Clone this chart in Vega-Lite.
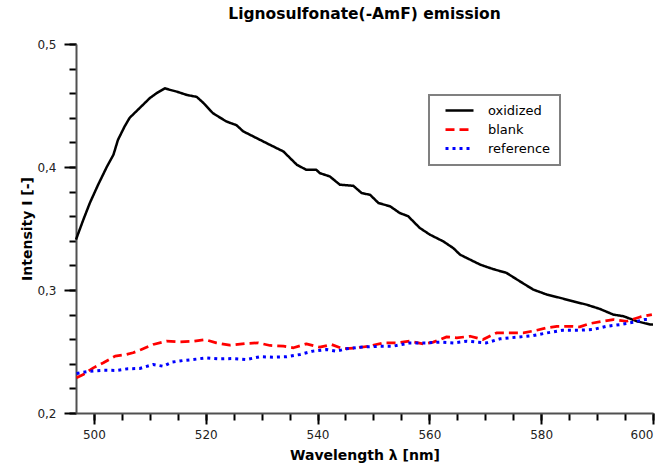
{
  "$schema": "https://vega.github.io/schema/vega-lite/v6.json",
  "width": 577,
  "height": 369,
  "autosize": {"type": "none"},
  "padding": {"left": 76, "top": 44, "right": 13, "bottom": 50},
  "background": "white",
  "config": {
    "view": {"stroke": null},
    "font": "DejaVu Sans",
    "legend": {
      "orient": "none",
      "legendX": 353,
      "legendY": 51,
      "title": null,
      "padding": 9,
      "strokeColor": "#808080",
      "strokeWidth": 2,
      "fillColor": "white",
      "symbolType": "M-2.8,0L2.8,0",
      "symbolSize": 100,
      "symbolOffset": 15,
      "labelOffset": 22,
      "labelFontSize": 13,
      "labelFont": "DejaVu Sans",
      "labelColor": "#000000",
      "rowPadding": 5
    }
  },
  "title": {
    "text": "Lignosulfonate(-AmF) emission",
    "fontSize": 15.5,
    "fontWeight": "bold",
    "font": "DejaVu Sans",
    "anchor": "middle",
    "offset": 16,
    "color": "#000000"
  },
  "data": {
    "values": [
      {"series": "oxidized", "wavelength": 496.8, "intensity": 0.341},
      {"series": "oxidized", "wavelength": 498.1, "intensity": 0.357},
      {"series": "oxidized", "wavelength": 499.3, "intensity": 0.371},
      {"series": "oxidized", "wavelength": 500.8, "intensity": 0.386},
      {"series": "oxidized", "wavelength": 502.3, "intensity": 0.4},
      {"series": "oxidized", "wavelength": 503.5, "intensity": 0.41},
      {"series": "oxidized", "wavelength": 504.3, "intensity": 0.422},
      {"series": "oxidized", "wavelength": 505.5, "intensity": 0.433},
      {"series": "oxidized", "wavelength": 506.4, "intensity": 0.44},
      {"series": "oxidized", "wavelength": 508.2, "intensity": 0.448},
      {"series": "oxidized", "wavelength": 510.0, "intensity": 0.456},
      {"series": "oxidized", "wavelength": 511.2, "intensity": 0.46},
      {"series": "oxidized", "wavelength": 512.7, "intensity": 0.464},
      {"series": "oxidized", "wavelength": 513.6, "intensity": 0.4627},
      {"series": "oxidized", "wavelength": 514.8, "intensity": 0.4613},
      {"series": "oxidized", "wavelength": 516.6, "intensity": 0.4586},
      {"series": "oxidized", "wavelength": 518.4, "intensity": 0.457},
      {"series": "oxidized", "wavelength": 519.6, "intensity": 0.452},
      {"series": "oxidized", "wavelength": 521.3, "intensity": 0.4437},
      {"series": "oxidized", "wavelength": 523.7, "intensity": 0.437},
      {"series": "oxidized", "wavelength": 525.5, "intensity": 0.434},
      {"series": "oxidized", "wavelength": 526.7, "intensity": 0.429},
      {"series": "oxidized", "wavelength": 529.1, "intensity": 0.4235},
      {"series": "oxidized", "wavelength": 531.5, "intensity": 0.418},
      {"series": "oxidized", "wavelength": 533.9, "intensity": 0.4126},
      {"series": "oxidized", "wavelength": 536.3, "intensity": 0.4018},
      {"series": "oxidized", "wavelength": 538.0, "intensity": 0.3977},
      {"series": "oxidized", "wavelength": 539.8, "intensity": 0.3977},
      {"series": "oxidized", "wavelength": 540.4, "intensity": 0.395},
      {"series": "oxidized", "wavelength": 542.2, "intensity": 0.3923},
      {"series": "oxidized", "wavelength": 544.0, "intensity": 0.3856},
      {"series": "oxidized", "wavelength": 546.4, "intensity": 0.3847},
      {"series": "oxidized", "wavelength": 547.9, "intensity": 0.3788},
      {"series": "oxidized", "wavelength": 549.4, "intensity": 0.3774},
      {"series": "oxidized", "wavelength": 550.9, "intensity": 0.3707},
      {"series": "oxidized", "wavelength": 553.0, "intensity": 0.368},
      {"series": "oxidized", "wavelength": 554.7, "intensity": 0.3626},
      {"series": "oxidized", "wavelength": 556.2, "intensity": 0.36},
      {"series": "oxidized", "wavelength": 557.7, "intensity": 0.3531},
      {"series": "oxidized", "wavelength": 558.3, "intensity": 0.3504},
      {"series": "oxidized", "wavelength": 560.1, "intensity": 0.345},
      {"series": "oxidized", "wavelength": 562.5, "intensity": 0.3395},
      {"series": "oxidized", "wavelength": 564.3, "intensity": 0.334},
      {"series": "oxidized", "wavelength": 565.5, "intensity": 0.3287},
      {"series": "oxidized", "wavelength": 566.7, "intensity": 0.326},
      {"series": "oxidized", "wavelength": 569.1, "intensity": 0.3206},
      {"series": "oxidized", "wavelength": 571.4, "intensity": 0.317},
      {"series": "oxidized", "wavelength": 573.8, "intensity": 0.3139},
      {"series": "oxidized", "wavelength": 576.2, "intensity": 0.307},
      {"series": "oxidized", "wavelength": 578.6, "intensity": 0.3003},
      {"series": "oxidized", "wavelength": 581.0, "intensity": 0.2963},
      {"series": "oxidized", "wavelength": 583.4, "intensity": 0.2936},
      {"series": "oxidized", "wavelength": 585.7, "intensity": 0.2908},
      {"series": "oxidized", "wavelength": 588.1, "intensity": 0.2881},
      {"series": "oxidized", "wavelength": 590.5, "intensity": 0.2846},
      {"series": "oxidized", "wavelength": 592.9, "intensity": 0.28},
      {"series": "oxidized", "wavelength": 594.7, "intensity": 0.2787},
      {"series": "oxidized", "wavelength": 597.1, "intensity": 0.2746},
      {"series": "oxidized", "wavelength": 599.5, "intensity": 0.2719},
      {"series": "oxidized", "wavelength": 600.0, "intensity": 0.272},
      {"series": "blank", "wavelength": 496.9, "intensity": 0.2286},
      {"series": "blank", "wavelength": 498.1, "intensity": 0.2313},
      {"series": "blank", "wavelength": 499.9, "intensity": 0.2367},
      {"series": "blank", "wavelength": 501.7, "intensity": 0.2408},
      {"series": "blank", "wavelength": 503.8, "intensity": 0.2462},
      {"series": "blank", "wavelength": 505.8, "intensity": 0.2476},
      {"series": "blank", "wavelength": 507.0, "intensity": 0.249},
      {"series": "blank", "wavelength": 508.5, "intensity": 0.2516},
      {"series": "blank", "wavelength": 510.6, "intensity": 0.2557},
      {"series": "blank", "wavelength": 513.0, "intensity": 0.2584},
      {"series": "blank", "wavelength": 515.4, "intensity": 0.2579},
      {"series": "blank", "wavelength": 517.8, "intensity": 0.2584},
      {"series": "blank", "wavelength": 519.9, "intensity": 0.2597},
      {"series": "blank", "wavelength": 521.9, "intensity": 0.257},
      {"series": "blank", "wavelength": 524.3, "intensity": 0.2551},
      {"series": "blank", "wavelength": 527.0, "intensity": 0.2565},
      {"series": "blank", "wavelength": 529.4, "intensity": 0.257},
      {"series": "blank", "wavelength": 531.5, "intensity": 0.2549},
      {"series": "blank", "wavelength": 533.9, "intensity": 0.2543},
      {"series": "blank", "wavelength": 535.7, "intensity": 0.253},
      {"series": "blank", "wavelength": 538.0, "intensity": 0.2562},
      {"series": "blank", "wavelength": 540.4, "intensity": 0.2535},
      {"series": "blank", "wavelength": 542.5, "intensity": 0.2557},
      {"series": "blank", "wavelength": 544.6, "intensity": 0.2522},
      {"series": "blank", "wavelength": 547.0, "intensity": 0.253},
      {"series": "blank", "wavelength": 549.1, "intensity": 0.2543},
      {"series": "blank", "wavelength": 551.8, "intensity": 0.257},
      {"series": "blank", "wavelength": 554.2, "intensity": 0.257},
      {"series": "blank", "wavelength": 556.5, "intensity": 0.2584},
      {"series": "blank", "wavelength": 558.9, "intensity": 0.2562},
      {"series": "blank", "wavelength": 560.7, "intensity": 0.2576},
      {"series": "blank", "wavelength": 563.1, "intensity": 0.2619},
      {"series": "blank", "wavelength": 564.9, "intensity": 0.2611},
      {"series": "blank", "wavelength": 567.3, "intensity": 0.2624},
      {"series": "blank", "wavelength": 569.6, "intensity": 0.2597},
      {"series": "blank", "wavelength": 572.0, "intensity": 0.2651},
      {"series": "blank", "wavelength": 574.4, "intensity": 0.2651},
      {"series": "blank", "wavelength": 576.8, "intensity": 0.2651},
      {"series": "blank", "wavelength": 579.2, "intensity": 0.2673},
      {"series": "blank", "wavelength": 581.0, "intensity": 0.2692},
      {"series": "blank", "wavelength": 582.8, "intensity": 0.2705},
      {"series": "blank", "wavelength": 585.2, "intensity": 0.2705},
      {"series": "blank", "wavelength": 586.9, "intensity": 0.27},
      {"series": "blank", "wavelength": 588.7, "intensity": 0.2727},
      {"series": "blank", "wavelength": 591.1, "intensity": 0.2746},
      {"series": "blank", "wavelength": 592.9, "intensity": 0.276},
      {"series": "blank", "wavelength": 595.3, "intensity": 0.2746},
      {"series": "blank", "wavelength": 597.7, "intensity": 0.2781},
      {"series": "blank", "wavelength": 599.8, "intensity": 0.28},
      {"series": "reference", "wavelength": 496.9, "intensity": 0.2321},
      {"series": "reference", "wavelength": 499.3, "intensity": 0.234},
      {"series": "reference", "wavelength": 501.7, "intensity": 0.2348},
      {"series": "reference", "wavelength": 504.0, "intensity": 0.2346},
      {"series": "reference", "wavelength": 506.1, "intensity": 0.236},
      {"series": "reference", "wavelength": 508.2, "intensity": 0.2362},
      {"series": "reference", "wavelength": 510.6, "intensity": 0.2394},
      {"series": "reference", "wavelength": 512.4, "intensity": 0.238},
      {"series": "reference", "wavelength": 513.9, "intensity": 0.2413},
      {"series": "reference", "wavelength": 516.0, "intensity": 0.2427},
      {"series": "reference", "wavelength": 517.8, "intensity": 0.2435},
      {"series": "reference", "wavelength": 520.1, "intensity": 0.2448},
      {"series": "reference", "wavelength": 522.5, "intensity": 0.244},
      {"series": "reference", "wavelength": 524.9, "intensity": 0.2443},
      {"series": "reference", "wavelength": 527.3, "intensity": 0.2435},
      {"series": "reference", "wavelength": 529.7, "intensity": 0.2457},
      {"series": "reference", "wavelength": 532.1, "intensity": 0.2454},
      {"series": "reference", "wavelength": 534.5, "intensity": 0.2457},
      {"series": "reference", "wavelength": 536.9, "intensity": 0.2476},
      {"series": "reference", "wavelength": 539.2, "intensity": 0.2503},
      {"series": "reference", "wavelength": 541.6, "intensity": 0.2516},
      {"series": "reference", "wavelength": 543.4, "intensity": 0.2503},
      {"series": "reference", "wavelength": 545.2, "intensity": 0.2522},
      {"series": "reference", "wavelength": 547.6, "intensity": 0.2535},
      {"series": "reference", "wavelength": 551.2, "intensity": 0.2543},
      {"series": "reference", "wavelength": 553.5, "intensity": 0.2543},
      {"series": "reference", "wavelength": 556.5, "intensity": 0.257},
      {"series": "reference", "wavelength": 559.5, "intensity": 0.257},
      {"series": "reference", "wavelength": 561.9, "intensity": 0.2576},
      {"series": "reference", "wavelength": 564.3, "intensity": 0.257},
      {"series": "reference", "wavelength": 566.7, "intensity": 0.2584},
      {"series": "reference", "wavelength": 570.2, "intensity": 0.257},
      {"series": "reference", "wavelength": 572.6, "intensity": 0.2603},
      {"series": "reference", "wavelength": 575.6, "intensity": 0.2616},
      {"series": "reference", "wavelength": 578.6, "intensity": 0.263},
      {"series": "reference", "wavelength": 581.0, "intensity": 0.2651},
      {"series": "reference", "wavelength": 583.9, "intensity": 0.2673},
      {"series": "reference", "wavelength": 586.9, "intensity": 0.2673},
      {"series": "reference", "wavelength": 589.3, "intensity": 0.2679},
      {"series": "reference", "wavelength": 591.7, "intensity": 0.2705},
      {"series": "reference", "wavelength": 594.1, "intensity": 0.2719},
      {"series": "reference", "wavelength": 596.5, "intensity": 0.2738},
      {"series": "reference", "wavelength": 598.6, "intensity": 0.276},
      {"series": "reference", "wavelength": 599.5, "intensity": 0.276}
    ]
  },
  "layer": [
    {
      "mark": {"type": "line", "opacity": 0},
      "encoding": {
        "x": {
          "field": "wavelength",
          "type": "quantitative",
          "scale": {"domain": [496.8, 600], "nice": false, "zero": false},
          "axis": {
            "orient": "bottom",
            "tickCount": 20,
            "labels": false,
            "domain": false,
            "grid": true,
            "gridOpacity": 0,
            "title": null,
            "tickSize": 7,
            "tickColor": "black",
            "tickWidth": 2
          }
        },
        "y": {
          "field": "intensity",
          "type": "quantitative",
          "scale": {"domain": [0.2, 0.5], "nice": false, "zero": false},
          "axis": {
            "orient": "left",
            "tickCount": 15,
            "labels": false,
            "domain": false,
            "grid": true,
            "gridOpacity": 0,
            "title": null,
            "tickSize": 7,
            "tickColor": "black",
            "tickWidth": 2
          }
        },
        "detail": {"field": "series", "type": "nominal"}
      }
    },
    {
      "mark": {"type": "line", "opacity": 0},
      "encoding": {
        "x": {
          "field": "wavelength",
          "type": "quantitative",
          "scale": {"domain": [496.8, 600], "nice": false, "zero": false},
          "axis": {
            "orient": "bottom",
            "tickCount": 5,
            "grid": true,
            "gridOpacity": 0,
            "tickSize": 11,
            "tickColor": "black",
            "tickWidth": 2,
            "domainColor": "#505050",
            "domainWidth": 2,
            "title": "Wavelength λ [nm]",
            "titleFontSize": 14,
            "titleFontWeight": "bold",
            "titleColor": "#000000",
            "titlePadding": 8,
            "labelFontSize": 12,
            "labelColor": "#222222",
            "labelPadding": 5
          }
        },
        "y": {
          "field": "intensity",
          "type": "quantitative",
          "scale": {"domain": [0.2, 0.5], "nice": false, "zero": false},
          "axis": {
            "orient": "left",
            "tickCount": 3,
            "labelExpr": "replace(format(datum.value, '.1f'), '.', ',')",
            "grid": true,
            "gridOpacity": 0,
            "tickSize": 12,
            "tickColor": "black",
            "tickWidth": 2,
            "domainColor": "#505050",
            "domainWidth": 2,
            "title": "Intensity I [-]",
            "titleFontSize": 14,
            "titleFontWeight": "bold",
            "titleColor": "#000000",
            "titlePadding": 2,
            "labelFontSize": 12,
            "labelColor": "#222222",
            "labelPadding": 8
          }
        },
        "detail": {"field": "series", "type": "nominal"}
      }
    },
    {
      "mark": {"type": "line", "strokeCap": "butt", "strokeJoin": "round"},
      "encoding": {
        "x": {
          "field": "wavelength",
          "type": "quantitative",
          "scale": {"domain": [496.8, 600], "nice": false, "zero": false},
          "axis": null
        },
        "y": {
          "field": "intensity",
          "type": "quantitative",
          "scale": {"domain": [0.2, 0.5], "nice": false, "zero": false},
          "axis": null
        },
        "color": {
          "field": "series",
          "type": "nominal",
          "scale": {"domain": ["oxidized", "blank", "reference"], "range": ["#000000", "#ff0000", "#0000ff"]}
        },
        "strokeDash": {
          "field": "series",
          "type": "nominal",
          "scale": {"domain": ["oxidized", "blank", "reference"], "range": [[1, 0], [9, 5], [3, 4]]}
        },
        "strokeWidth": {
          "field": "series",
          "type": "nominal",
          "scale": {"domain": ["oxidized", "blank", "reference"], "range": [2.5, 3, 3]}
        }
      }
    }
  ],
  "resolve": {"axis": {"x": "independent", "y": "independent"}}
}
